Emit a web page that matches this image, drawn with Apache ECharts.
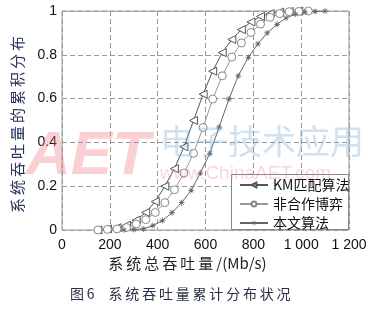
<!DOCTYPE html>
<html><head><meta charset="utf-8">
<script src="https://cdn.jsdelivr.net/npm/echarts@6/dist/echarts.min.js"></script>
<style>html,body{margin:0;padding:0;background:#fff}#c{width:375px;height:309px}</style>
</head><body><div id="c"></div>
<script>
const seriesNames = ['KM匹配算法', '非合作博弈', '本文算法'];
const kmX = [150,190,230,270,310,350,390,430,470,510,550,590,630,670,710,750,790,830,870,910,950,990];
const kmY = [0,0.005,0.01,0.022,0.045,0.08,0.13,0.2,0.28,0.38,0.5,0.62,0.725,0.81,0.87,0.915,0.95,0.975,0.988,0.995,0.998,1.0];
const ncX = [150,190,230,270,310,350,390,430,470,510,550,590,630,670,710,750,790,830,870,910,950,990,1030];
const ncY = [0,0.003,0.005,0.011,0.027,0.047,0.08,0.125,0.184,0.26,0.35,0.468,0.598,0.704,0.79,0.854,0.902,0.94,0.971,0.988,0.997,0.998,1.0];
const ouX = [260,300,340,380,420,460,500,540,578,618,657,698,737,779,819,858,899,937,977,1016,1058,1100];
const ouY = [0,0.002,0.005,0.02,0.043,0.079,0.125,0.181,0.259,0.35,0.47,0.598,0.704,0.788,0.85,0.9,0.939,0.968,0.986,0.995,0.998,1.0];
const xTicks = ['0','200','400','600','800','1 000','1 200'];
const yTicks = ['0','0.2','0.4','0.6','0.8','1'];

const pair = (xs, ys) => xs.map((x, i) => [x, ys[i]]);
const star = 'path://M-0.6,-5L0.6,-5L0.6,5L-0.6,5Z M-5,-0.6L5,-0.6L5,0.6L-5,0.6Z M-3.9,-3.1L-3.1,-3.9L3.9,3.1L3.1,3.9Z M3.1,-3.9L3.9,-3.1L-3.1,3.9L-3.9,3.1Z';
const cjk = '"Noto Sans CJK SC", sans-serif';
const chart = echarts.init(document.getElementById('c'));
chart.setOption({
  animation: false,
  grid: { left: 62, right: 26, top: 11, bottom: 79, show: true, borderColor: '#999', borderWidth: 1 },
  xAxis: {
    type: 'value', min: 0, max: 1200, interval: 200,
    axisLine: { show: false }, axisTick: { show: false },
    splitLine: { show: true, lineStyle: { type: [5, 3], color: '#999' } },
    axisLabel: { margin: 8, fontSize: 14, color: '#111', fontFamily: 'Arial, "Liberation Sans"',
      formatter: v => xTicks[Math.round(v / 200)] }
  },
  yAxis: {
    type: 'value', min: 0, max: 1, interval: 0.2,
    axisLine: { show: false }, axisTick: { show: false },
    splitLine: { show: true, lineStyle: { type: [5, 3], color: '#999' } },
    axisLabel: { margin: 5, fontSize: 14, color: '#111', fontFamily: 'Arial, "Liberation Sans"',
      formatter: v => yTicks[Math.round(v / 0.2)] }
  },
  legend: {
    orient: 'vertical', left: 235, top: 176, itemWidth: 28, itemHeight: 6, itemGap: 5,
    z: 12, padding: [2, 4, 2, 4],
    textStyle: { fontSize: 14, color: '#111', fontFamily: cjk, padding: [0, 0, 0, 0] },
    data: seriesNames
  },
  graphic: [
    { type: 'rect', z: 10, shape: { x: 231.5, y: 174.5, width: 117, height: 55 },
      style: { fill: '#fff', stroke: '#888', lineWidth: 1 } },
    { type: 'text', z: 20, left: 26, top: 126, style: { text: 'AET', font: 'italic bold 62px Arial', fill: 'rgba(240,120,130,0.35)' } },
    { type: 'text', z: 20, left: 160, top: 124, style: { text: '电子技术应用', font: '34px "Noto Sans CJK SC"', fill: 'rgba(120,170,210,0.35)' } },
    { type: 'text', z: 20, left: 160, top: 164, style: { text: 'www.ChinaAET.com', font: '19px Arial', fill: 'rgba(240,120,130,0.3)' } },
    { type: 'text', z: 20, left: 10, top: 36, rotation: Math.PI / 2,
      style: { text: '系\u2009统\u2009吞\u2009吐\u2009量\u2009的\u2009累\u2009积\u2009分\u2009布', font: '15px "Noto Sans CJK SC"', fill: '#2a3560' },
      originX: 0, originY: 0 },
    { type: 'text', z: 20, left: 'center', top: 256,
      style: { text: '系\u2009统\u2009总\u2009吞\u2009吐\u2009量\u2009/(Mb/s)', font: '15px "Noto Sans CJK SC"', fill: '#222' } },
    { type: 'text', z: 20, left: 70, top: 287,
      style: { text: '图\u20096\u2003系\u2009统\u2009吞\u2009吐\u2009量\u2009累\u2009计\u2009分\u2009布\u2009状\u2009况', font: '14px "Noto Sans CJK SC"', fill: '#2a3047' } }
  ],
  series: [
    { name: seriesNames[0], type: 'line', data: pair(kmX, kmY), symbol: 'triangle', symbolRotate: 90, symbolSize: 8,
      lineStyle: { color: '#555', width: 1 }, itemStyle: { color: '#fff', borderColor: '#555', borderWidth: 1 } },
    { name: seriesNames[1], type: 'line', data: pair(ncX, ncY), symbol: 'circle', symbolSize: 8,
      lineStyle: { color: '#999', width: 1 }, itemStyle: { color: '#fff', borderColor: '#888', borderWidth: 1 } },
    { name: seriesNames[2], type: 'line', data: pair(ouX, ouY), symbol: star, symbolSize: 6,
      lineStyle: { color: '#666', width: 1 }, itemStyle: { color: '#666', borderWidth: 0 } }
  ]
});
</script></body></html>
